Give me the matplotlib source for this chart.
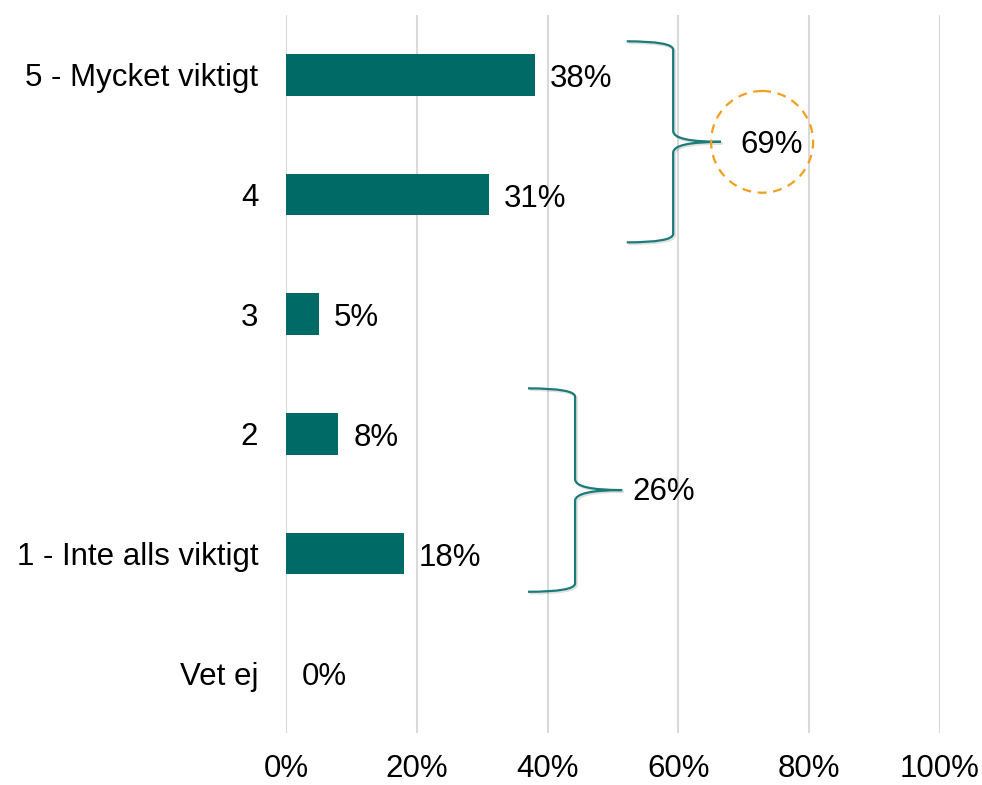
import numpy as np
import matplotlib.pyplot as plt
from matplotlib.path import Path
from matplotlib.patches import PathPatch, Ellipse
import matplotlib.patheffects as pe

plt.rcParams['font.family'] = ['Liberation Sans', 'DejaVu Sans']

# data
categories = ['5 - Mycket viktigt', '4', '3', '2', '1 - Inte alls viktigt', 'Vet ej']
values = [38, 31, 5, 8, 18, 0]
xticks = [0, 20, 40, 60, 80, 100]
# summed groups shown with braces: (first row, last row, label)
top_group = (0, 1, '69%')
low_group = (3, 4, '26%')

bar_color = '#006A66'
brace_color = '#1B7B78'
circle_color = '#F0A01E'
fs = 22.5

fig = plt.figure(figsize=(9.82, 7.85), dpi=100)
ax = fig.add_axes([286 / 982, 1 - 733 / 785, 654 / 982, 718 / 785])

y = np.arange(len(categories))
ax.barh(y, values, height=0.35, color=bar_color, zorder=2)
for yi, v in zip(y, values):
    ax.annotate(f'{v}%', (v, yi), xytext=(11, -3), textcoords='offset points',
                va='center', ha='left', fontsize=fs)

ax.set_xlim(0, 100)
ax.set_ylim(len(categories) - 0.5, -0.5)
ax.set_yticks(y)
ax.set_yticklabels(categories, fontsize=fs)
ax.set_xticks(xticks)
ax.set_xticklabels([f'{t}%' for t in xticks], fontsize=fs)
ax.tick_params(axis='both', length=0)
ax.tick_params(axis='y', pad=20)
ax.tick_params(axis='x', pad=15)
ax.grid(axis='x', color='#D9D9D9', linewidth=1.5, zorder=0)
for s in ax.spines.values():
    s.set_visible(False)


def brace(x0, xv, xt, y_top, y_mid, y_bot):
    r1 = 0.07
    r2 = 0.09
    verts = [(x0, y_top), (xv, y_top), (xv, y_top + r1),
             (xv, y_mid - r2), (xv, y_mid), (xt, y_mid),
             (xv, y_mid), (xv, y_mid + r2),
             (xv, y_bot - r1), (xv, y_bot), (x0, y_bot)]
    codes = [Path.MOVETO, Path.CURVE3, Path.CURVE3,
             Path.LINETO, Path.CURVE3, Path.CURVE3,
             Path.CURVE3, Path.CURVE3,
             Path.LINETO, Path.CURVE3, Path.CURVE3]
    p = PathPatch(Path(verts, codes), facecolor='none', edgecolor=brace_color,
                  linewidth=1.6, clip_on=False, zorder=3,
                  path_effects=[pe.SimpleLineShadow(offset=(1.2, -1.2), alpha=0.12),
                                pe.Normal()])
    ax.add_patch(p)


# upper brace + circled sum
brace(52.1, 59.2, 66.5, top_group[0] - 0.28, top_group[0] + 0.56, top_group[1] + 0.40)
ax.add_patch(Ellipse((72.8, top_group[0] + 0.56), 15.6, 0.85, facecolor='none',
                     edgecolor=circle_color, linewidth=1.6, linestyle=(0, (4, 3)),
                     clip_on=False, zorder=3))
ax.text(74.2, top_group[0] + 0.59, top_group[2], fontsize=fs, ha='center', va='center')

# lower brace
brace(37.0, 44.2, 51.4, low_group[0] - 0.38, low_group[0] + 0.47, low_group[1] + 0.32)
ax.text(52.9, low_group[0] + 0.49, low_group[2], fontsize=fs, ha='left', va='center')

fig.savefig('out.png', dpi=100)
